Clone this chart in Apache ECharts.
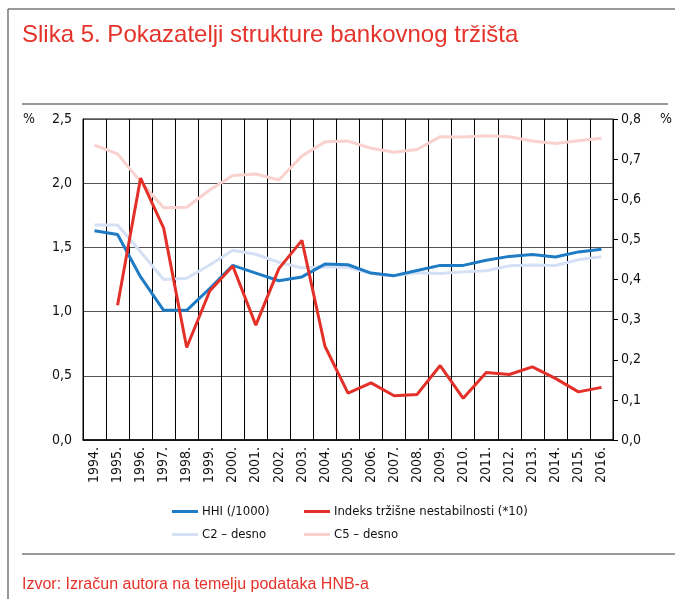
<!DOCTYPE html>
<html>
<head>
<meta charset="utf-8">
<script src="https://cdn.jsdelivr.net/npm/echarts@6/dist/echarts.min.js"></script>
<style>
  html, body { margin: 0; padding: 0; background: #fff; }
  #chart { width: 675px; height: 599px; }
</style>
</head>
<body>
<div id="chart"></div>
<script>
// godine
const years = ['1994.', '1995.', '1996.', '1997.', '1998.', '1999.', '2000.', '2001.',
  '2002.', '2003.', '2004.', '2005.', '2006.', '2007.', '2008.', '2009.', '2010.',
  '2011.', '2012.', '2013.', '2014.', '2015.', '2016.']

// lijeva os
const hhi = [1.63, 1.60, 1.27, 1.01, 1.01, 1.18, 1.36, 1.30, 1.24, 1.27, 1.37, 1.365,
  1.30, 1.28, 1.32, 1.36, 1.36, 1.40, 1.43, 1.445, 1.425, 1.465, 1.485]
const indeks = [null, 1.05, 2.04, 1.65, 0.72, 1.16, 1.355, 0.895, 1.335, 1.555, 0.73,
  0.365, 0.445, 0.345, 0.355, 0.58, 0.325, 0.525, 0.51, 0.57, 0.48, 0.375, 0.41]

// desna os
const c2 = [0.536, 0.536, 0.469, 0.400, 0.403, 0.436, 0.473, 0.463, 0.443, 0.429,
  0.432, 0.430, 0.415, 0.409, 0.417, 0.415, 0.419, 0.422, 0.434, 0.436, 0.435, 0.449, 0.457]
const c5 = [0.735, 0.713, 0.644, 0.579, 0.580, 0.623, 0.659, 0.663, 0.648, 0.708,
  0.743, 0.745, 0.727, 0.717, 0.724, 0.756, 0.755, 0.758, 0.756, 0.745, 0.739, 0.746, 0.752]

const NARROW = "'DejaVu Sans Condensed', sans-serif"
const RED = '#e5332b'
const comma = v => v.toFixed(1).replace('.', ',')

const chart = echarts.init(document.getElementById('chart'))

function legendAt(name, left, top) {
  return {
    data: [name], left: left, top: top, orient: 'horizontal',
    icon: 'rect', itemWidth: 26, itemHeight: 3, itemGap: 4,
    textStyle: { fontFamily: NARROW, fontSize: 13, color: '#111', padding: [0, 0, 0, -1] }
  }
}

function line(name, data, color, yIdx, z) {
  return {
    name: name, type: 'line', data: data, yAxisIndex: yIdx, z: z,
    symbol: 'none', connectNulls: false,
    lineStyle: { width: 3, color: color }, itemStyle: { color: color }
  }
}

chart.setOption({
  animation: false,
  title: {
    text: 'Slika 5. Pokazatelji strukture bankovnog tržišta',
    left: 17, top: 18,
    textStyle: { color: RED, fontSize: 24, fontWeight: 'normal', fontFamily: 'Liberation Sans' }
  },
  grid: {
    left: 83, right: 62, top: 119, bottom: 159,
    show: true, borderColor: '#000', borderWidth: 1
  },
  legend: [
    legendAt('HHI (/1000)', 167, 500),
    legendAt('Indeks tržišne nestabilnosti (*10)', 299, 500),
    legendAt('C2 – desno', 167, 523),
    legendAt('C5 – desno', 299, 523)
  ],
  xAxis: {
    type: 'category', data: years, boundaryGap: true,
    axisLine: { lineStyle: { color: '#000', width: 1.5 } },
    axisTick: { show: false },
    splitLine: { show: true, interval: 0, lineStyle: { color: '#000', width: 1 } },
    axisLabel: { rotate: 90, interval: 0, margin: 7, fontFamily: NARROW, fontSize: 14, color: '#111' }
  },
  yAxis: [
    {
      type: 'value', min: 0, max: 2.5, interval: 0.5,
      axisLine: { show: true, lineStyle: { color: '#000' } },
      axisTick: { show: false },
      splitLine: { lineStyle: { color: '#555', width: 1 } },
      axisLabel: { formatter: comma, margin: 11, fontFamily: NARROW, fontSize: 14, color: '#111' }
    },
    {
      type: 'value', min: 0, max: 0.8, interval: 0.1, position: 'right',
      axisLine: { show: true, lineStyle: { color: '#000' } },
      axisTick: { show: true, inside: false, length: 5, lineStyle: { color: '#000' } },
      splitLine: { show: false },
      axisLabel: { formatter: comma, margin: 8, fontFamily: NARROW, fontSize: 14, color: '#111' }
    }
  ],
  series: [
    line('C5 – desno', c5, '#f9d2d0', 1, 2),
    line('C2 – desno', c2, '#d5e0f4', 1, 3),
    line('HHI (/1000)', hhi, '#1f7cc4', 0, 4),
    line('Indeks tržišne nestabilnosti (*10)', indeks, '#e3312a', 0, 5)
  ],
  graphic: [
    { type: 'line', shape: { x1: 8, y1: 9, x2: 675, y2: 9 }, style: { stroke: '#777', lineWidth: 1.5 } },
    { type: 'line', shape: { x1: 8, y1: 9, x2: 8, y2: 599 }, style: { stroke: '#777', lineWidth: 1.5 } },
    { type: 'line', shape: { x1: 22, y1: 104, x2: 668, y2: 104 }, style: { stroke: '#777', lineWidth: 1.5 } },
    { type: 'line', shape: { x1: 22, y1: 554, x2: 675, y2: 554 }, style: { stroke: '#777', lineWidth: 1.5 } },
    { type: 'text', left: 23, top: 112, style: { text: '%', fontFamily: NARROW, fontSize: 14, fill: '#111' } },
    { type: 'text', left: 660, top: 112, style: { text: '%', fontFamily: NARROW, fontSize: 14, fill: '#111' } },
    { type: 'text', left: 22, top: 577, style: { text: 'Izvor: Izračun autora na temelju podataka HNB-a', fontFamily: 'Liberation Sans', fontSize: 16, fill: RED } }
  ]
})
</script>
</body>
</html>
